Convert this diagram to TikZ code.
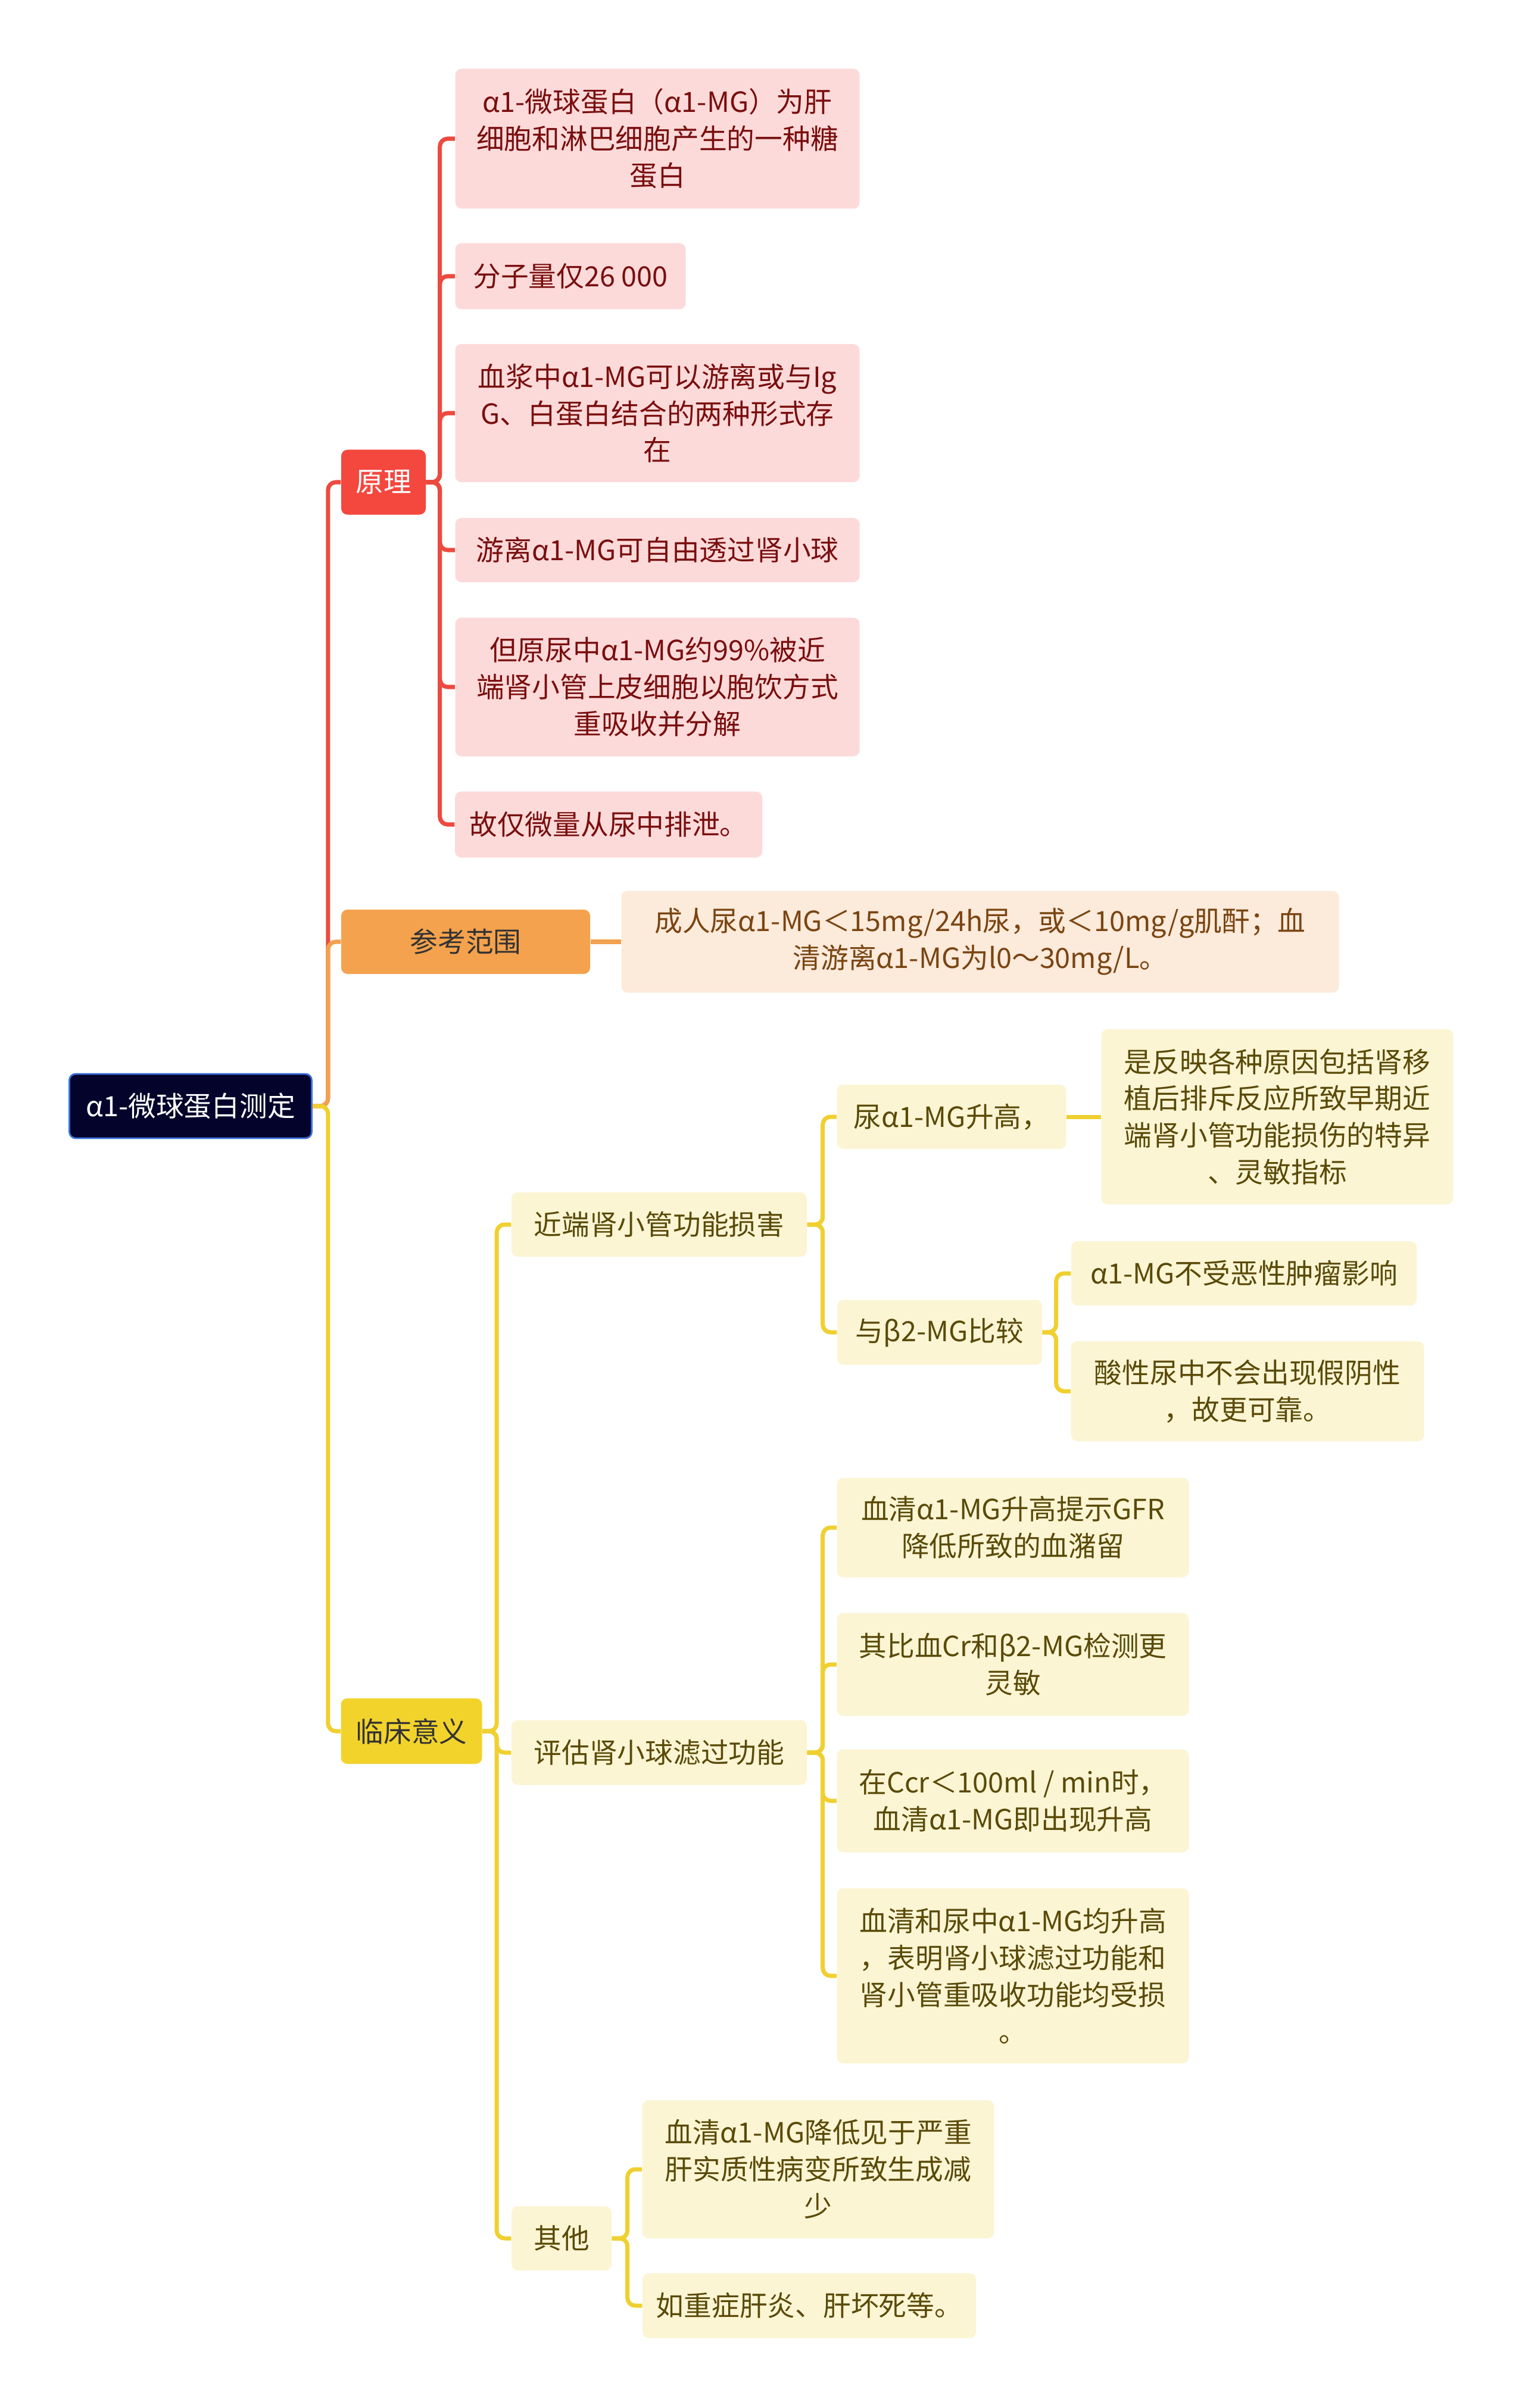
\documentclass[tikz,border=0pt]{standalone}
\usepackage{fontspec}
\setmainfont{Noto Sans CJK SC}
\usepackage{tikz}
\usetikzlibrary{positioning}

\definecolor{rootfill}{HTML}{03032B}
\definecolor{rootedge}{HTML}{3A6FD8}
\definecolor{redfill}{HTML}{F4473E}
\definecolor{redline}{HTML}{EC4A40}
\definecolor{pinkfill}{HTML}{FDDADA}
\definecolor{pinktext}{HTML}{7A0E0E}
\definecolor{orangefill}{HTML}{F4A24D}
\definecolor{orangeline}{HTML}{F2A150}
\definecolor{peachfill}{HTML}{FCEADB}
\definecolor{browntext}{HTML}{7A4512}
\definecolor{yellowfill}{HTML}{F2D32B}
\definecolor{yellowline}{HTML}{F0D030}
\definecolor{creamfill}{HTML}{FBF5D4}
\definecolor{olivetext}{HTML}{5A4A08}

\begin{document}
\begin{tikzpicture}[
  box/.style={rounded corners=3pt, inner sep=0pt, align=center,
              font=\fontsize{13.3}{17.6}\selectfont},
  rootbox/.style={box, fill=rootfill, draw=rootedge, line width=0.8pt, text=white},
  mainred/.style={box, fill=redfill, text=white},
  mainorange/.style={box, fill=orangefill, text=black!80},
  mainyellow/.style={box, fill=yellowfill, text=black!80},
  pinkbox/.style={box, fill=pinkfill, text=pinktext},
  peachbox/.style={box, fill=peachfill, text=browntext},
  creambox/.style={box, fill=creamfill, text=olivetext},
  redlink/.style={draw=redline, line width=2pt, rounded corners=0.13cm},
  orangelink/.style={draw=orangeline, line width=2pt, rounded corners=0.13cm},
  yellowlink/.style={draw=yellowline, line width=2pt, rounded corners=0.13cm}
]
  \fill[white] (0,0) rectangle (25.6,-40.45);
  \useasboundingbox (0,0) rectangle (25.6,-40.45);

  % Root
  \node[rootbox, minimum width=4.07cm, minimum height=1.08cm] (root) at (3.20,-18.58) {α1-微球蛋白测定};

  % Main branches
  \node[mainred, minimum width=1.42cm, minimum height=1.09cm] (yuanli) at (6.44,-8.10) {原理};
  \node[mainorange, minimum width=4.18cm, minimum height=1.08cm] (fanwei) at (7.82,-15.82) {参考范围};
  \node[mainyellow, minimum width=2.37cm, minimum height=1.10cm] (yiyi) at (6.91,-29.08) {临床意义};

  % Principle
  \node[pinkbox, minimum width=6.79cm, minimum height=2.35cm] (yl1) at (11.04,-2.33)
    {α1-微球蛋白（α1-MG）为肝\\细胞和淋巴细胞产生的一种糖\\蛋白};
  \node[pinkbox, minimum width=3.87cm, minimum height=1.11cm] (yl2) at (9.58,-4.64) {分子量仅26 000};
  \node[pinkbox, minimum width=6.79cm, minimum height=2.32cm] (yl3) at (11.04,-6.94)
    {血浆中α1-MG可以游离或与Ig\\G、白蛋白结合的两种形式存\\在};
  \node[pinkbox, minimum width=6.79cm, minimum height=1.08cm] (yl4) at (11.04,-9.24) {游离α1-MG可自由透过肾小球};
  \node[pinkbox, minimum width=6.79cm, minimum height=2.33cm] (yl5) at (11.04,-11.54)
    {但原尿中α1-MG约99\%被近\\端肾小管上皮细胞以胞饮方式\\重吸收并分解};
  \node[pinkbox, minimum width=5.16cm, minimum height=1.11cm] (yl6) at (10.22,-13.85) {故仅微量从尿中排泄。};

  % Reference range
  \node[peachbox, minimum width=12.05cm, minimum height=1.71cm] (fw1) at (16.46,-15.82)
    {成人尿α1-MG＜15mg/24h尿，或＜10mg/g肌酐；血\\清游离α1-MG为l0～30mg/L。};

  % Clinical meaning
  \node[creambox, minimum width=4.96cm, minimum height=1.08cm] (jinduan) at (11.07,-20.57) {近端肾小管功能损害};
  \node[creambox, minimum width=4.96cm, minimum height=1.09cm] (pinggu) at (11.07,-29.44) {评估肾小球滤过功能};
  \node[creambox, minimum width=1.68cm, minimum height=1.08cm] (qita) at (9.43,-37.60) {其他};

  \node[creambox, minimum width=3.85cm, minimum height=1.08cm] (niao) at (15.98,-18.76) {尿α1-MG升高，};
  \node[creambox, minimum width=5.91cm, minimum height=2.94cm] (niao1) at (21.45,-18.76)
    {是反映各种原因包括肾移\\植后排斥反应所致早期近\\端肾小管功能损伤的特异\\、灵敏指标};
  \node[creambox, minimum width=3.44cm, minimum height=1.09cm] (bijiao) at (15.78,-22.38) {与β2-MG比较};
  \node[creambox, minimum width=5.80cm, minimum height=1.08cm] (bj1) at (20.89,-21.39) {α1-MG不受恶性肿瘤影响};
  \node[creambox, minimum width=5.93cm, minimum height=1.68cm] (bj2) at (20.95,-23.37)
    {酸性尿中不会出现假阴性\\，故更可靠。};

  \node[creambox, minimum width=5.91cm, minimum height=1.67cm] (pg1) at (17.01,-25.66)
    {血清α1-MG升高提示GFR\\降低所致的血潴留};
  \node[creambox, minimum width=5.91cm, minimum height=1.73cm] (pg2) at (17.01,-27.96)
    {其比血Cr和β2-MG检测更\\灵敏};
  \node[creambox, minimum width=5.91cm, minimum height=1.73cm] (pg3) at (17.01,-30.25)
    {在Ccr＜100ml / min时，\\血清α1-MG即出现升高};
  \node[creambox, minimum width=5.91cm, minimum height=2.94cm] (pg4) at (17.01,-33.19)
    {血清和尿中α1-MG均升高\\，表明肾小球滤过功能和\\肾小管重吸收功能均受损\\。};

  \node[creambox, minimum width=5.91cm, minimum height=2.32cm] (qt1) at (13.74,-36.44)
    {血清α1-MG降低见于严重\\肝实质性病变所致生成减\\少};
  \node[creambox, minimum width=5.60cm, minimum height=1.09cm] (qt2) at (13.59,-38.73) {如重症肝炎、肝坏死等。};

  % Root links
  \draw[redlink] (root.east) -- ++(0.26,0) |- (yuanli.west);
  \draw[orangelink] (root.east) -- ++(0.26,0) |- (fanwei.west);
  \draw[yellowlink] (root.east) -- ++(0.26,0) |- (yiyi.west);

  % Principle links
  \draw[redlink] (yuanli.east) -- ++(0.23,0) |- (yl1.west);
  \draw[redlink] (yuanli.east) -- ++(0.23,0) |- (yl2.west);
  \draw[redlink] (yuanli.east) -- ++(0.23,0) |- (yl3.west);
  \draw[redlink] (yuanli.east) -- ++(0.23,0) |- (yl4.west);
  \draw[redlink] (yuanli.east) -- ++(0.23,0) |- (yl5.west);
  \draw[redlink] (yuanli.east) -- ++(0.23,0) |- (yl6.west);

  % Reference link
  \draw[orangelink] (fanwei.east) -- (fw1.west);

  % Clinical links
  \draw[yellowlink] (yiyi.east) -- ++(0.24,0) |- (jinduan.west);
  \draw[yellowlink] (yiyi.east) -- ++(0.24,0) |- (pinggu.west);
  \draw[yellowlink] (yiyi.east) -- ++(0.24,0) |- (qita.west);

  \draw[yellowlink] (jinduan.east) -- ++(0.26,0) |- (niao.west);
  \draw[yellowlink] (jinduan.east) -- ++(0.26,0) |- (bijiao.west);
  \draw[yellowlink] (niao.east) -- (niao1.west);
  \draw[yellowlink] (bijiao.east) -- ++(0.23,0) |- (bj1.west);
  \draw[yellowlink] (bijiao.east) -- ++(0.23,0) |- (bj2.west);

  \draw[yellowlink] (pinggu.east) -- ++(0.26,0) |- (pg1.west);
  \draw[yellowlink] (pinggu.east) -- ++(0.26,0) |- (pg2.west);
  \draw[yellowlink] (pinggu.east) -- ++(0.26,0) |- (pg3.west);
  \draw[yellowlink] (pinggu.east) -- ++(0.26,0) |- (pg4.west);

  \draw[yellowlink] (qita.east) -- ++(0.26,0) |- (qt1.west);
  \draw[yellowlink] (qita.east) -- ++(0.26,0) |- (qt2.west);
\end{tikzpicture}
\end{document}
